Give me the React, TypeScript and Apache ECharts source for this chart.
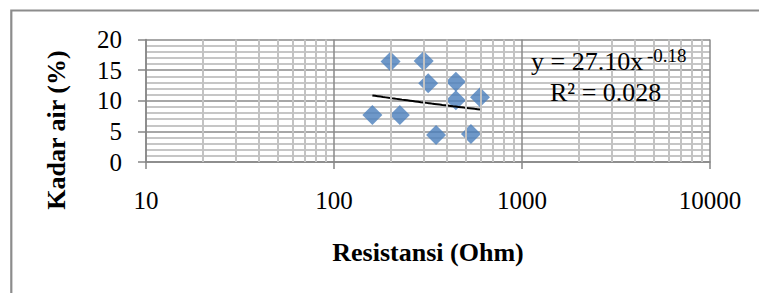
import React, { useEffect, useRef } from "react";
import * as echarts from "echarts";

const resistance = [200, 300, 317, 445, 445, 598, 160, 224, 349, 535];
const moisture = [16.4, 16.5, 12.85, 13.1, 10.1, 10.56, 7.67, 7.67, 4.41, 4.57];
const trendA = 27.1;
const trendB = -0.18;
const equationText = "y = 27.10x";
const exponentText = "-0.18";
const r2Text = "R² = 0.028";
const xTitle = "Resistansi (Ohm)";
const yTitle = "Kadar air (%)";
const decades = [10, 100, 1000];
const multipliers = [2, 3, 4, 5, 6, 7, 8, 9];

const FONT = "Liberation Serif";

export default function App() {
  const ref = useRef<HTMLDivElement>(null);
  useEffect(() => {
    if (!ref.current) return;
    const chart = echarts.init(ref.current, undefined, { renderer: "svg" });
    const points = resistance.map((r, i) => [r, moisture[i]]);
    const xMin = Math.min(...resistance);
    const xMax = Math.max(...resistance);
    const trend: number[][] = [];
    const steps = 40;
    for (let i = 0; i <= steps; i++) {
      const lx = Math.log10(xMin) + ((Math.log10(xMax) - Math.log10(xMin)) * i) / steps;
      const x = Math.pow(10, lx);
      trend.push([x, trendA * Math.pow(x, trendB)]);
    }
    const minorX: { xAxis: number }[] = [];
    decades.forEach((d) => multipliers.forEach((m) => minorX.push({ xAxis: d * m })));

    chart.setOption({
      animation: false,
      grid: { left: 146, right: 49, top: 39.5, bottom: 131, containLabel: false },
      xAxis: {
        type: "log",
        logBase: 10,
        min: 10,
        max: 10000,
        axisLine: { show: true, lineStyle: { color: "#868686", width: 1.5 } },
        axisTick: { show: true, length: 7, lineStyle: { color: "#868686", width: 1.5 } },
        axisLabel: {
          color: "#000",
          fontFamily: FONT,
          fontSize: 25,
          margin: 26,
          formatter: (v: number) => String(Math.round(v)),
        },
        splitLine: { show: true, lineStyle: { color: "#8a8a8a", width: 1.5 } },
        minorTick: { show: false },
      },
      yAxis: {
        type: "value",
        min: 0,
        max: 20,
        interval: 5,
        axisLine: { show: true, lineStyle: { color: "#868686", width: 1.5 } },
        axisTick: { show: true, length: 8, lineStyle: { color: "#868686", width: 1.5 } },
        axisLabel: { color: "#000", fontFamily: FONT, fontSize: 25, margin: 24 },
        splitLine: { show: true, lineStyle: { color: "#8a8a8a", width: 1.5 } },
        minorTick: { show: false, splitNumber: 5 },
        minorSplitLine: { show: true, lineStyle: { color: "#c6c6c6", width: 2 } },
      },
      graphic: [
        {
          type: "rect",
          shape: { x: 11.3, y: 10.5, width: 900, height: 400 },
          style: { fill: "none", stroke: "#8c8c8c", lineWidth: 2.2 },
          silent: true,
          z: -10,
        },
        {
          type: "text",
          x: 531,
          y: 61.5,
          style: { text: equationText, fontFamily: FONT, fontSize: 26, fill: "#000", align: "left", verticalAlign: "middle" },
          z: 10,
        },
        {
          type: "text",
          x: 647,
          y: 55.5,
          style: { text: exponentText, fontFamily: FONT, fontSize: 19, fill: "#000", align: "left", verticalAlign: "middle" },
          z: 10,
        },
        {
          type: "text",
          x: 550,
          y: 92.5,
          style: { text: r2Text, fontFamily: FONT, fontSize: 26, fill: "#000", align: "left", verticalAlign: "middle" },
          z: 10,
        },
        {
          type: "text",
          x: 428,
          y: 252,
          style: { text: xTitle, fontFamily: FONT, fontSize: 26, fontWeight: "bold", fill: "#000", align: "center", verticalAlign: "middle" },
        },
        {
          type: "text",
          x: 56,
          y: 130,
          rotation: Math.PI / 2,
          style: { text: yTitle, fontFamily: FONT, fontSize: 26, fontWeight: "bold", fill: "#000", align: "center", verticalAlign: "middle" },
        },
      ],
      series: [
        {
          type: "line",
          data: [],
          z: 1,
          silent: true,
          markLine: {
            silent: true,
            symbol: "none",
            label: { show: false },
            lineStyle: { color: "#c3c3c3", width: 2, type: "solid" },
            data: minorX,
          },
        },
        {
          type: "scatter",
          data: points,
          symbol: "diamond",
          symbolSize: 20,
          itemStyle: { color: "#4A7EBB" },
          z: 3,
        },
        {
          type: "line",
          data: trend,
          showSymbol: false,
          symbol: "none",
          lineStyle: { color: "#000", width: 2 },
          z: 4,
        },
      ],
    });
    return () => chart.dispose();
  }, []);
  return <div ref={ref} style={{ position: "fixed", left: 0, top: 0, width: 759, height: 293, background: "#fff" }} />;
}
